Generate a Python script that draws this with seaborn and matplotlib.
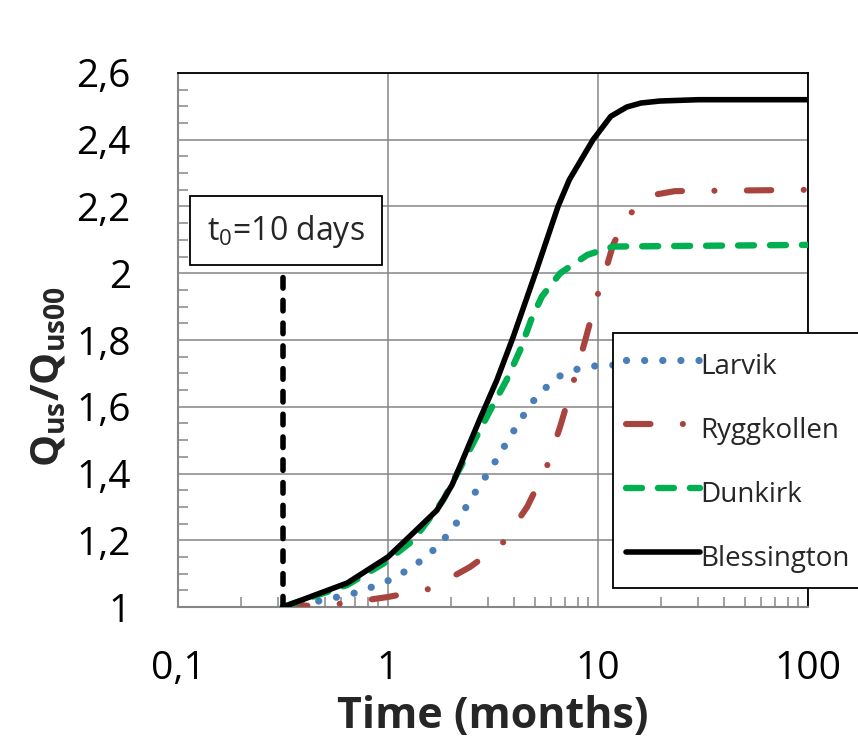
import matplotlib
matplotlib.use("Agg")
import matplotlib.pyplot as plt
import matplotlib.patches as mpatches
import seaborn as sns
import numpy as np
import pandas as pd
from matplotlib.ticker import FixedLocator, FixedFormatter, LogLocator, MultipleLocator, NullFormatter

# ---------------- data ----------------
t_blessington = [0.316, 0.64, 1.0, 1.32, 1.71, 2.02, 2.75, 3.3, 3.95, 5.1, 6.45, 7.3, 9.47, 11.5, 13.7, 16.0, 19.7, 30.0, 100.0]
q_blessington = [1.0, 1.072, 1.15, 1.222, 1.29, 1.366, 1.566, 1.68, 1.81, 2.01, 2.20, 2.28, 2.40, 2.47, 2.498, 2.51, 2.516, 2.52, 2.52]

t_dunkirk = [0.316, 0.64, 0.95, 1.32, 1.83, 2.54, 3.07, 3.67, 4.26, 4.8, 5.4, 6.6, 8.9, 11.8, 100.0]
q_dunkirk = [1.0, 1.066, 1.13, 1.20, 1.32, 1.49, 1.59, 1.68, 1.77, 1.86, 1.93, 2.0, 2.055, 2.08, 2.085]

t_larvik = [0.316, 0.49, 0.73, 1.08, 1.53, 2.02, 2.5, 3.13, 3.9, 4.8, 5.6, 6.45, 8.0, 9.6, 12.0, 100.0]
q_larvik = [1.0, 1.02, 1.045, 1.087, 1.15, 1.23, 1.327, 1.42, 1.52, 1.61, 1.655, 1.69, 1.713, 1.722, 1.725, 1.725]

t_ryggkollen = [0.316, 0.6, 1.0, 1.6, 2.46, 3.5, 4.6, 5.7, 6.6, 7.6, 8.7, 9.9, 11.0, 11.8, 13.7, 18.1, 23.2, 100.0]
q_ryggkollen = [1.0, 1.01, 1.03, 1.055, 1.12, 1.19, 1.30, 1.42, 1.54, 1.67, 1.80, 1.93, 2.02, 2.085, 2.17, 2.234, 2.246, 2.25]

series_names = ["Larvik", "Ryggkollen", "Dunkirk", "Blessington"]

t0_time = [0.316, 0.316]
t0_q = [1.0, 1.995]
t0_label = "=10 days"

x_ticks = [0.1, 1, 10, 100]
x_ticklabels = ["0,1", "1", "10", "100"]
y_ticks = [1.0, 1.2, 1.4, 1.6, 1.8, 2.0, 2.2, 2.4, 2.6]
y_ticklabels = ["1", "1,2", "1,4", "1,6", "1,8", "2", "2,2", "2,4", "2,6"]

# ---------------- style ----------------
sns.set_style("white")
plt.rcParams["font.family"] = ["Open Sans", "DejaVu Sans"]
plt.rcParams["mathtext.fontset"] = "custom"
plt.rcParams["mathtext.rm"] = "Open Sans"
plt.rcParams["mathtext.it"] = "Open Sans"
plt.rcParams["mathtext.bf"] = "Open Sans:bold"

fig = plt.figure(figsize=(8.58, 7.42), dpi=100)
W, H = 858, 742
ax = fig.add_axes([178 / W, 1 - 607 / H, 630 / W, 534 / H])

grid_gray = "#868686"

styles = {
    "Larvik": dict(color="#4A7EBB", lw=5.2, linestyle=(0, (0.01, 2.5))),
    "Ryggkollen": dict(color="#A9433E", lw=4.4, linestyle=(0, (4.0, 5.3, 0.01, 5.3))),
    "Dunkirk": dict(color="#00B050", lw=4.6, linestyle=(0, (2.5, 2.5))),
    "Blessington": dict(color="black", lw=4.0, linestyle="-"),
}
data = {
    "Larvik": (t_larvik, q_larvik),
    "Ryggkollen": (t_ryggkollen, q_ryggkollen),
    "Dunkirk": (t_dunkirk, q_dunkirk),
    "Blessington": (t_blessington, q_blessington),
}

for i, name in enumerate(series_names):
    tx, qy = data[name]
    df = pd.DataFrame({"t": tx, "q": qy})
    st = styles[name]
    sns.lineplot(data=df, x="t", y="q", ax=ax, sort=False, estimator=None,
                 color=st["color"], lw=st["lw"], linestyle=st["linestyle"],
                 dash_capstyle="round", solid_capstyle="round",
                 label=name, zorder=3 + i)

# t0 vertical dashed line
sns.lineplot(x=t0_time, y=t0_q, ax=ax, sort=False, estimator=None, color="black",
             lw=4.0, linestyle=(0, (1.9, 2.2)), dash_capstyle="round", zorder=8, legend=False)

ax.set_xscale("log")
ax.set_xlim(0.1, 100)
ax.set_ylim(1.0, 2.6)

ax.xaxis.set_major_locator(FixedLocator(x_ticks))
ax.xaxis.set_major_formatter(FixedFormatter(x_ticklabels))
ax.xaxis.set_minor_locator(LogLocator(base=10, subs=np.arange(2, 10)))
ax.xaxis.set_minor_formatter(NullFormatter())
ax.yaxis.set_major_locator(FixedLocator(y_ticks))
ax.yaxis.set_major_formatter(FixedFormatter(y_ticklabels))
ax.yaxis.set_minor_locator(MultipleLocator(0.05))
ax.yaxis.set_minor_formatter(NullFormatter())

ax.tick_params(axis="both", which="both", bottom=True, left=True, top=False, right=False)
ax.tick_params(axis="both", which="major", length=0, labelsize=28, labelcolor="black")
ax.tick_params(axis="x", which="major", pad=31)
ax.tick_params(axis="y", which="major", pad=34)
ax.tick_params(axis="both", which="minor", direction="in", length=7, width=1.1, color=grid_gray)

ax.grid(True, which="major", color=grid_gray, lw=1.1)
ax.set_axisbelow(True)

for s in ["left", "bottom"]:
    ax.spines[s].set_color(grid_gray)
    ax.spines[s].set_linewidth(1.5)
for s in ["top", "right"]:
    ax.spines[s].set_color("black")
    ax.spines[s].set_linewidth(1.3)

ax.set_xlabel("Time (months)", fontsize=31, fontweight="bold")
ax.xaxis.set_label_coords(0.5, -0.165)
ax.set_ylabel(r"$\mathbf{Q_{us}/Q_{us00}}$", fontsize=29)
ax.yaxis.set_label_coords(-0.172, 0.431)

# annotation box for t0
box = mpatches.Rectangle((12 / 630, (607 - 265) / 534), 192 / 630, 69 / 534, transform=ax.transAxes,
                         fc="white", ec="black", lw=1.3, zorder=10)
ax.add_patch(box)
ax.text(0.171, 0.704, r"$\mathrm{t_0}$" + t0_label, transform=ax.transAxes, ha="center", va="center",
        fontsize=23, zorder=11)

leg = ax.legend(loc="upper left", bbox_to_anchor=(613 / W, 1 - 333 / H), bbox_transform=fig.transFigure,
                borderaxespad=0, frameon=True, fancybox=False, framealpha=1, edgecolor="black",
                fontsize=20, handlelength=2.65, handletextpad=0.0, labelspacing=1.0, borderpad=0.48,
                handleheight=1.63)
leg.get_frame().set_linewidth(1.3)
leg.set_zorder(20)

fig.savefig("out.png", dpi=100)
